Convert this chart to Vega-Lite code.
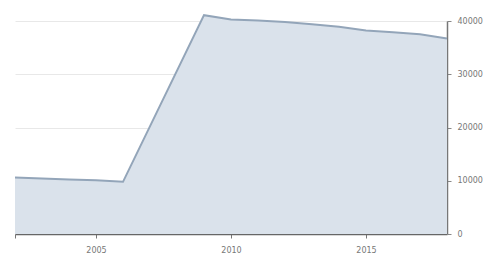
{
  "$schema": "https://vega.github.io/schema/vega-lite/v6.json",
  "autosize": "none",
  "width": 432,
  "height": 213,
  "padding": {"left": 15, "top": 21, "right": 49, "bottom": 22},
  "background": "white",
  "data": {"values": [
    {"year": 2002, "value": 10600},
    {"year": 2003, "value": 10400},
    {"year": 2004, "value": 10250},
    {"year": 2005, "value": 10100},
    {"year": 2006, "value": 9800},
    {"year": 2009, "value": 41100},
    {"year": 2010, "value": 40300},
    {"year": 2011, "value": 40100},
    {"year": 2012, "value": 39800},
    {"year": 2013, "value": 39400},
    {"year": 2014, "value": 38900},
    {"year": 2015, "value": 38200},
    {"year": 2016, "value": 37900},
    {"year": 2017, "value": 37500},
    {"year": 2018, "value": 36700}
  ]},
  "mark": {"type": "area", "color": "#dae2eb", "opacity": 1, "clip": false,
    "line": {"color": "#93a5b9", "strokeWidth": 2}},
  "encoding": {
    "x": {"field": "year", "type": "quantitative",
      "scale": {"domain": [2002, 2018], "nice": false, "zero": false},
      "axis": {"values": [2002, 2005, 2010, 2015], "format": "d", "title": null, "grid": false,
        "labelExpr": "datum.value == 2002 ? '' : datum.label",
        "domainColor": "#666", "domainWidth": 1.5, "tickColor": "#777", "tickSize": 4,
        "labelColor": "#777", "labelFontSize": 8, "labelFont": "DejaVu Sans", "labelPadding": 8}},
    "y": {"field": "value", "type": "quantitative",
      "scale": {"domain": [0, 40000], "nice": false},
      "axis": {"orient": "right", "values": [0, 10000, 20000, 30000, 40000], "format": "d", "title": null,
        "grid": true, "gridColor": "#e8e8e8",
        "domainColor": "#777", "domainWidth": 1.5, "tickColor": "#888", "tickSize": 4,
        "labelColor": "#777", "labelFontSize": 8, "labelFont": "DejaVu Sans", "labelPadding": 6}}
  },
  "config": {"view": {"stroke": null}}
}
